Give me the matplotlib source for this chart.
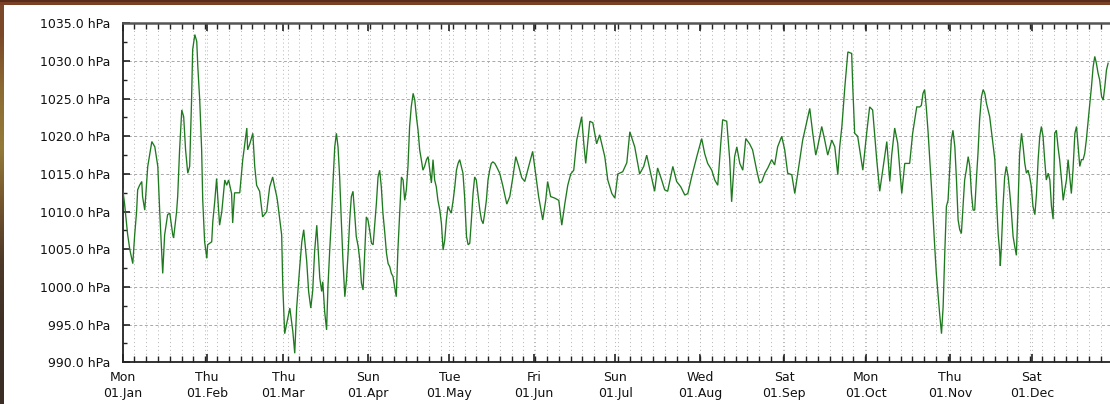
import numpy as np
import matplotlib
matplotlib.use("Agg")
import matplotlib.pyplot as plt
import matplotlib.dates as mdates
from matplotlib.ticker import MultipleLocator, FuncFormatter, FixedLocator
from matplotlib.patches import Rectangle

# ---------------- data (day offset from 2018-01-01, pressure in hPa) ----------------
start_date = "2018-01-01"

days_a = [0.0, 0.7, 1.8, 2.6, 3.7, 4.4, 5.1, 5.5, 6.2, 7.0, 7.3, 8.1, 9.2, 10.7, 11.8,
          12.9, 13.6, 14.3, 14.7, 15.4, 16.5, 17.3, 18.4, 18.7, 19.8, 20.2, 20.9, 21.7,
          22.4, 23.1, 23.9, 24.6, 25.3, 25.7, 26.5, 27.2, 27.6, 28.3, 29.0, 29.4, 30.1,
          30.9, 31.2, 32.7, 33.1, 33.8, 34.5, 34.9, 35.6, 36.4, 37.5, 38.2, 38.9, 40.0,
          40.4, 41.1, 43.0, 44.1, 45.6, 45.9, 46.7, 47.8, 48.5, 49.2, 50.3, 51.4, 52.9,
          54.0, 55.1, 55.8, 56.6, 56.9, 58.4, 58.8, 59.5, 60.6, 61.4, 62.5, 63.2, 63.9,
          65.0, 65.8, 66.5, 67.6, 68.3, 69.1, 69.8, 70.5, 71.3, 72.4, 73.1, 73.5, 74.2, 74.9]
hpa_a = [1013, 1011, 1007, 1005, 1003.1, 1006.9, 1010, 1012.9, 1013.5, 1014, 1012, 1010.2,
         1016, 1019.3, 1018.6, 1016, 1010, 1004.7, 1001.8, 1006.9, 1009.6, 1009.8, 1006.9,
         1006.5, 1010, 1012, 1018.2, 1023.5, 1022.6, 1018.2, 1015.1, 1016, 1024.8, 1031.5,
         1033.5, 1032.6, 1029.2, 1024.8, 1018.2, 1011.5, 1006, 1003.8, 1005.6, 1006, 1008.7,
         1011.3, 1014.4, 1012, 1008.2, 1010, 1014.2, 1013.5, 1014.2, 1012.4, 1008.5, 1012.5,
         1012.5, 1016.9, 1021.1, 1018.2, 1019.0, 1020.4, 1016, 1013.5, 1012.7, 1009.3, 1010,
         1013.3, 1014.6, 1013.3, 1012, 1011.3, 1006.9, 1000.3, 993.8, 995.8, 997.2, 994.1,
         991.2, 997.2, 1002.5, 1006, 1007.6, 1003.4, 999.4, 997.2, 999.5, 1004.7, 1008.2,
         1001.2, 999.4, 1000.7, 996.7, 994.3]

days_b = [75.4, 76.0, 76.7, 77.3, 77.9, 78.5, 79.1, 79.7, 80.3, 80.9,
          81.6, 82.2, 82.8, 83.4, 84.0, 84.6, 85.2, 85.8, 86.5, 87.1,
          87.7, 88.3, 88.9, 89.5, 90.1, 90.7, 91.4, 92.0, 92.6, 93.2,
          93.8, 94.4, 95.0, 95.6, 96.3, 96.9, 97.5, 98.1, 98.7, 99.3,
          99.9, 100.5, 101.1, 101.8, 102.4, 103.0, 103.6, 104.2, 104.8, 105.4,
          106.0, 106.7, 107.3, 107.9, 108.5, 109.1, 109.7, 110.3, 110.9, 111.6,
          112.2, 112.8, 113.4, 114.0, 114.6, 115.2, 115.8, 116.5, 117.1, 117.7,
          118.3, 118.9, 119.5, 120.1, 120.7, 121.4, 122.0, 122.6, 123.2, 123.8,
          124.4, 125.0, 125.6, 126.3, 126.9, 127.5, 128.1, 128.7, 129.3, 129.9,
          130.5, 131.2, 131.8, 132.4, 133.0, 133.6, 134.2, 134.8, 135.4, 136.0,
          136.7, 137.3, 138.5]
hpa_b = [1000, 1004.5, 1009.3, 1014.2, 1018.6, 1020.4, 1018.6, 1014.6, 1008.9, 1003.6,
         998.7, 1000.9, 1004.5, 1008.9, 1012, 1012.7, 1009.8, 1006.7, 1005.4, 1003.6,
         1000.5, 999.6, 1004.5, 1009.3, 1008.9, 1007.6, 1005.8, 1005.6, 1008.4, 1011.1,
         1014.6, 1015.5, 1013.3, 1009.8, 1007.1, 1004.5, 1003.1, 1002.7, 1001.8, 1001.4,
         1000, 998.7, 1004.9, 1010.2, 1014.6, 1014.2, 1011.5, 1012.9, 1016, 1021.3,
         1023.9, 1025.7, 1024.8, 1022.6, 1020.8, 1018.2, 1016.9, 1015.5, 1016, 1016.9,
         1017.3, 1015.5, 1013.8, 1016.9, 1014.2, 1013.3, 1011.5, 1010.2, 1008.4, 1004.9,
         1006.2, 1008.9, 1010.7, 1010.2, 1009.8, 1011.5, 1013.3, 1015.5, 1016.4, 1016.9,
         1016, 1015.1, 1012, 1006.7, 1005.6, 1005.8, 1008.9, 1012.4, 1014.6, 1014.2,
         1012.4, 1010.2, 1008.9, 1008.4, 1009.8, 1011.5, 1014.2, 1015.5, 1016.4, 1016.6,
         1016.4, 1016, 1015.1]

days_c = [139.6, 141.1, 142.2, 143.3, 144.4, 145.5, 146.6, 147.7, 148.8, 150.6,
          151.7, 152.8, 154.3, 155.4, 156.1, 157.2, 158.7, 160.2, 161.3, 162.4,
          163.5, 164.6, 165.7, 166.8, 168.6, 169.4, 170.1, 170.8, 171.6, 172.7,
          174.1, 175.2, 177.1, 178.2, 179.7, 180.8, 181.9, 183.7, 185.2, 186.3,
          188.1, 189.9, 191.4, 192.5, 194.0, 195.4, 196.5, 198.0, 199.1, 200.2,
          202.1, 203.5, 205.0, 206.5, 207.6, 209.0, 210.9, 212.7, 213.8, 214.9,
          216.4, 217.5, 218.6, 219.7, 220.4, 221.9, 223.0, 223.7, 224.8, 225.6,
          226.7]
hpa_c = [1013.5, 1011, 1012, 1014.5, 1017.3, 1016, 1014.5, 1014, 1015.5, 1018,
         1015, 1012, 1008.9, 1011.5, 1014, 1012, 1011.8, 1011.5, 1008.2, 1011,
         1013.5, 1015, 1015.5, 1019.5, 1022.6, 1019, 1016.4, 1019, 1022, 1021.8,
         1019, 1020.2, 1017.3, 1014.2, 1012.4, 1011.8, 1015, 1015.3, 1016.5, 1020.6,
         1018.6, 1015, 1016, 1017.5, 1015, 1012.7, 1015.8, 1014.2, 1012.9, 1012.7,
         1016, 1014, 1013.3, 1012.2, 1012.4, 1014.6, 1017.3, 1019.7, 1017.7, 1016.4,
         1015.5, 1014.2, 1013.5, 1019, 1022.2, 1022, 1016.9, 1011.3, 1017.3, 1018.6,
         1016.4]

days_d = [227.8, 228.9, 230.3, 231.4, 232.9, 234.0, 234.8, 235.9, 237.0, 238.4,
          239.5, 240.6, 242.1, 243.2, 244.3, 245.8, 246.9, 248.0, 249.8, 252.4,
          253.5, 254.6, 255.3, 256.8, 257.9, 259.0, 260.5, 261.6, 262.7, 263.4,
          264.2, 265.3, 266.4, 267.8, 268.2, 268.9, 270.0, 271.5, 271.9, 273.3,
          274.4, 275.5, 277.0, 278.1, 279.2, 280.7, 281.8, 282.5, 283.6, 284.7,
          286.2, 287.3, 289.1, 290.2, 291.7, 292.8]
hpa_d = [1015.5, 1019.7, 1019, 1018.2, 1015.5, 1013.8, 1014, 1015.1, 1015.8, 1016.9,
         1016.2, 1018.6, 1020, 1018.2, 1015.1, 1014.9, 1012.4, 1015.1, 1019.5, 1023.7,
         1020.4, 1017.5, 1018.6, 1021.3, 1019.5, 1017.5, 1019.5, 1018.6, 1014.9, 1018.6,
         1021.3, 1026.6, 1031.2, 1031, 1026.6, 1020.4, 1020, 1016.4, 1015.5, 1020.4,
         1023.9, 1023.5, 1016.9, 1012.7, 1015.5, 1019.3, 1014, 1017.5, 1021.1, 1019.1,
         1012.4, 1016.4, 1016.4, 1020.4, 1023.9, 1023.9]

days_e = [293.4, 294.0, 294.6, 295.2, 295.9, 296.5, 297.1, 297.7, 298.3, 298.9,
          299.5, 300.1, 300.8, 301.4, 302.0, 302.6, 303.2, 303.8, 304.4, 305.0,
          305.7, 306.3, 306.9, 307.5, 308.1, 308.7, 309.3, 309.9, 310.6, 311.2,
          311.8, 312.4, 313.0, 313.6, 314.2, 314.8, 315.5, 316.1, 316.7, 317.3,
          317.9, 318.5, 319.1, 319.7, 320.4, 321.0, 321.6, 322.2, 322.4, 322.8,
          323.4, 324.0, 324.6, 325.3, 325.9, 326.5, 327.1, 327.7, 328.3, 328.9,
          329.5, 330.2, 330.8, 331.4, 332.0, 332.6, 333.2, 333.8, 334.4, 335.1,
          335.7, 336.3, 336.9, 337.5, 338.1, 338.7, 339.3, 340.0, 340.6, 341.2,
          341.8, 342.4, 343.0, 343.6, 344.2, 344.9, 345.5, 346.1, 346.7, 347.3,
          347.9, 348.5, 349.1, 349.8, 350.4, 351.0, 351.6, 352.2, 352.8, 353.4,
          354.0, 354.7, 355.3, 355.9, 356.5, 357.1, 357.7, 358.3, 358.9, 359.6,
          360.2, 360.8, 361.4, 362.0]
hpa_e = [1024.1, 1025.7, 1026.2, 1023.9, 1020.4, 1016.9, 1013.3, 1009.3, 1005.4, 1001.8,
         999.2, 996.5, 993.8, 997.4, 1004.5, 1010.7, 1011.5, 1015.5, 1019.5, 1020.8,
         1018.6, 1014.2, 1008.9, 1007.6, 1007.1, 1010.7, 1014.2, 1015.5, 1017.3, 1016,
         1012.4, 1010.2, 1010.2, 1014.2, 1017.7, 1022.2, 1025.3, 1026.2, 1025.7, 1024.4,
         1023.5, 1022.6, 1020.8, 1019.1, 1016.9, 1011.5, 1007.1, 1004.5, 1002.8, 1005.4,
         1010.7, 1014.6, 1016, 1014.6, 1012.4, 1009.8, 1006.7, 1005.4, 1004.2, 1010.7,
         1017.7, 1020.4, 1018.6, 1016.4, 1015.1, 1015.5, 1014.6, 1013.3, 1010.7, 1009.6,
         1012.4, 1016.9, 1020, 1021.3, 1020, 1016.9, 1014.2, 1015.1, 1014.2, 1010.7,
         1009, 1020.4, 1020.8, 1018.6, 1016.9, 1014.2, 1011.5, 1012.9, 1014.2, 1016.9,
         1014.6, 1012.4, 1015.5, 1020.4, 1021.3, 1018.6, 1016, 1016.9, 1016.9, 1017.7,
         1019.5, 1022.2, 1024.4, 1026.6, 1029.2, 1030.6, 1029.7, 1028.4, 1027.5, 1025.3,
         1024.8, 1026.6, 1028.8, 1029.7]

y_min, y_max = 990.0, 1035.0
x_span_days = 362.7          # visible part of the year (chart is cut at the right)
minor_step_days = 4.33

# ---------------- assemble ----------------
def seg(d, v):
    n = min(len(d), len(v))
    return np.asarray(d[:n], float), np.asarray(v[:n], float)

parts = [seg(days_a, hpa_a), seg(days_b, hpa_b), seg(days_c, hpa_c),
         seg(days_d, hpa_d), seg(days_e, hpa_e)]
days = np.concatenate([p[0] for p in parts])
hpa = np.concatenate([p[1] for p in parts])

t0 = np.datetime64(start_date + "T00:00:00")
times = t0 + np.round(days * 86400).astype("timedelta64[s]")

# ---------------- figure ----------------
W, H = 1110, 404
fig = plt.figure(figsize=(W / 100, H / 100), dpi=100)
fig.patch.set_facecolor("white")

# window-frame decoration (top and left edges of the screenshot)
fig.patches.append(Rectangle((0, 1 - 5 / H), 1, 5 / H, transform=fig.transFigure,
                             facecolor="#7a4127", edgecolor="none", zorder=0))
fig.patches.append(Rectangle((0, 1 - 2 / H), 1, 2 / H, transform=fig.transFigure,
                             facecolor="#5a2c1a", edgecolor="none", zorder=0))
edge_ax = fig.add_axes([0, 0, 4 / W, 1 - 5 / H])
grad_cols = np.array([[0.23, 0.18, 0.15], [0.25, 0.19, 0.15], [0.30, 0.22, 0.16],
                      [0.45, 0.33, 0.18], [0.58, 0.48, 0.22], [0.55, 0.42, 0.20],
                      [0.48, 0.28, 0.16]])
edge_ax.imshow(grad_cols[:, None, :], aspect="auto", origin="lower",
               extent=[0, 1, 0, 1], interpolation="bilinear")
edge_ax.set_axis_off()

ax = fig.add_axes([122.7 / W, 1 - 362.3 / H, 1 - 122.7 / W, (362.3 - 23.3) / H])
ax.set_facecolor("white")

ax.plot(times, hpa, color="#1f7a1f", lw=0.95, solid_joinstyle="miter", zorder=3)

ax.set_ylim(y_min, y_max)
ax.set_xlim(t0, t0 + np.timedelta64(int(x_span_days * 86400), "s"))

# y axis
ax.yaxis.set_major_locator(MultipleLocator(5))
ax.yaxis.set_minor_locator(MultipleLocator(2.5))
ax.yaxis.set_major_formatter(FuncFormatter(lambda v, p: f"{v:.1f} hPa"))

# x axis
ax.xaxis.set_major_locator(mdates.MonthLocator())
ax.xaxis.set_major_formatter(mdates.DateFormatter("%a\n%d.%b"))
t0_num = mdates.date2num(t0)
minor_pos = [t0_num + k * minor_step_days for k in range(int(366 / minor_step_days) + 1)]
ax.xaxis.set_minor_locator(FixedLocator(minor_pos))

ax.tick_params(axis="y", which="major", direction="in", length=5, width=1.2,
               color="#222222", labelsize=9, pad=9, labelcolor="#111111")
ax.tick_params(axis="y", which="minor", direction="in", length=3, width=1.0,
               color="#222222")
ax.tick_params(axis="x", which="major", direction="in", length=6, width=1.2,
               color="#222222", top=True, bottom=True, labelsize=9, pad=6,
               labelcolor="#111111")
ax.tick_params(axis="x", which="minor", direction="in", length=4, width=1.0,
               color="#222222", top=True, bottom=True)
for lab in ax.get_xticklabels():
    lab.set_linespacing(1.35)

# grid
ax.grid(which="both", axis="x", color="#b4b4b4", linestyle=(0, (1, 3)), lw=0.7, zorder=1)
ax.grid(which="major", axis="y", color="#a8a8a8", linestyle=(0, (3, 2.5)), lw=0.7, zorder=1)

for s in ["left", "bottom"]:
    ax.spines[s].set_color("#222222")
    ax.spines[s].set_linewidth(1.3)
ax.spines["top"].set_color("#555555")
ax.spines["top"].set_linewidth(1.8)
ax.spines["right"].set_visible(False)

fig.savefig("out.png", dpi=100, facecolor="white")
